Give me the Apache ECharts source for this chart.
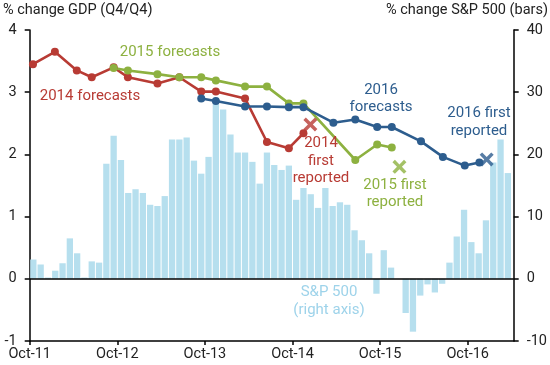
<!DOCTYPE html>
<html>
<head>
<meta charset="utf-8">
<script src="https://cdn.jsdelivr.net/npm/echarts@6/dist/echarts.min.js"></script>
<style>
html,body{margin:0;padding:0;background:#fff;}
#chart{width:550px;height:365px;}
</style>
</head>
<body>
<div id="chart"></div>
<script>
// x positions are months since Oct-2011
var xTickLabels = ['Oct-11','Oct-12','Oct-13','Oct-14','Oct-15','Oct-16'];

// monthly S&P 500 % change (right axis), one bar per month starting Oct-2011
var spValues = [3.1,2.3,0.2,1.3,2.5,6.5,4.1,0.2,2.8,2.6,
  18.5,23.0,19.1,13.8,14.4,13.8,11.9,11.7,13.3,22.4,
  22.4,22.7,19.0,16.9,19.6,28.1,27.2,23.2,20.3,20.3,
  18.8,15.3,20.3,18.3,17.5,18.2,12.7,14.6,13.6,11.4,
  14.6,11.7,12.3,11.9,7.8,6.2,4.1,-2.4,4.6,1.8,
  0,-5.5,-8.5,-2.7,-0.9,-2.2,-0.8,2.6,6.8,11.1,
  5.9,4.1,9.4,18.7,22.4,17.0];

var f2014Months = [0.45,3.45,6.45,8.5,11.5,13.45,17.5,20.5,23.5,25.5,29.5,32.5,35.5,37.5];
var f2014Values = [3.45,3.65,3.35,3.24,3.40,3.24,3.14,3.24,3.01,3.01,2.90,2.20,2.10,2.34];
var r2014Month = [38.45];
var r2014Value = [2.48];

var f2015Months = [11.5,13.45,17.5,20.5,23.5,25.5,29.5,32.5,35.5,37.5,44.6,47.6,49.6];
var f2015Values = [3.39,3.35,3.29,3.24,3.24,3.19,3.09,3.09,2.82,2.82,1.91,2.16,2.11];
var r2015Month = [50.65];
var r2015Value = [1.80];

var f2016Months = [23.5,25.5,29.5,32.5,35.5,37.5,41.6,44.6,47.6,49.6,53.6,56.6,59.6,61.6];
var f2016Values = [2.90,2.86,2.77,2.77,2.76,2.76,2.51,2.56,2.44,2.44,2.21,1.96,1.82,1.87];
var r2016Month = [62.6];
var r2016Value = [1.92];

var RED = '#B83B34', GREEN = '#8DB140', BLUE = '#2D5D8E', LBLUE = '#B6DFEE', LBLUE_T = '#9ED3EA';
var FONT = 'Roboto';
var XPATH = 'path://M0,3.5 L3.5,0 L10,6.5 L16.5,0 L20,3.5 L13.5,10 L20,16.5 L16.5,20 L10,13.5 L3.5,20 L0,16.5 L6.5,10 Z';

function pairs(xs, ys){ return xs.map(function(x,i){ return [x, ys[i]]; }); }

var chart = echarts.init(document.getElementById('chart'), null, {renderer:'canvas'});
var axisTextStyle = {color:'#222', fontSize:14.5, fontFamily:FONT};

function lineSeries(xs, ys, color){
  return {type:'line', xAxisIndex:0, yAxisIndex:0, data:pairs(xs,ys),
    symbol:'circle', symbolSize:8, itemStyle:{color:color},
    lineStyle:{color:color, width:2.6}, z:3};
}
function crossSeries(xs, ys, color){
  return {type:'scatter', xAxisIndex:0, yAxisIndex:0, data:pairs(xs,ys),
    symbol:XPATH, symbolSize:14, itemStyle:{color:color}, z:4};
}
function note(text, x, y, color){
  return {type:'text', x:x, y:y, style:{text:text, fill:color, font:'15px '+FONT,
    align:'center', verticalAlign:'middle', lineHeight:17.5}, z:10};
}

chart.setOption({
  animation:false,
  backgroundColor:'#fff',
  grid:{left:29.7, right:35, top:30, bottom:24, containLabel:false},
  xAxis:{type:'value', min:0, max:66.3, interval:12,
    axisLine:{show:true, onZero:false, lineStyle:{color:'#000', width:1.5}},
    axisTick:{show:true, inside:false, length:4, lineStyle:{color:'#000', width:1.5}},
    splitLine:{show:false},
    axisLabel:Object.assign({margin:6, showMaxLabel:false, formatter:function(v){
      var k = Math.round(v/12);
      return (Math.abs(v - k*12) < 1e-6 && k < xTickLabels.length) ? xTickLabels[k] : '';
    }}, axisTextStyle)},
  yAxis:[
    {type:'value', min:-1, max:4, interval:1, position:'left',
      axisLine:{show:true, lineStyle:{color:'#000', width:1.5}},
      axisTick:{show:true, inside:false, length:5, lineStyle:{color:'#000', width:1.5}},
      splitLine:{show:false},
      axisLabel:Object.assign({margin:13}, axisTextStyle)},
    {type:'value', min:-10, max:40, interval:10, position:'right',
      axisLine:{show:true, lineStyle:{color:'#000', width:1.5}},
      axisTick:{show:true, inside:false, length:5, lineStyle:{color:'#000', width:1.5}},
      splitLine:{show:false},
      axisLabel:Object.assign({margin:13}, axisTextStyle)}
  ],
  series:[
    {type:'bar', xAxisIndex:0, yAxisIndex:1, barWidth:6.3,
      data:spValues.map(function(v,i){ return [i+0.5, v]; }),
      itemStyle:{color:LBLUE}, z:1,
      markLine:{silent:true, symbol:['none','none'], label:{show:false},
        lineStyle:{color:'#000', width:1.5, type:'solid'}, data:[{yAxis:0}]}},
    lineSeries(f2014Months, f2014Values, RED),
    lineSeries(f2015Months, f2015Values, GREEN),
    lineSeries(f2016Months, f2016Values, BLUE),
    crossSeries(r2014Month, r2014Value, RED),
    crossSeries(r2015Month, r2015Value, GREEN),
    crossSeries(r2016Month, r2016Value, BLUE)
  ],
  graphic:[
    {type:'text', x:3, y:10, style:{text:'% change GDP (Q4/Q4)', fill:'#222', font:'14.5px '+FONT, align:'left', verticalAlign:'middle'}},
    {type:'text', x:548, y:10, style:{text:'% change S&P 500 (bars)', fill:'#222', font:'14.5px '+FONT, align:'right', verticalAlign:'middle'}},
    note('2014 forecasts', 90, 96, RED),
    note('2015 forecasts', 170, 52, GREEN),
    note('2016\nforecasts', 381, 98.5, BLUE),
    note('2016 first\nreported', 479, 122, BLUE),
    note('2014\nfirst\nreported', 321, 161, RED),
    note('2015 first\nreported', 395, 193.5, GREEN),
    note('S&P 500\n(right axis)', 329, 301, LBLUE_T)
  ]
});
</script>
</body>
</html>
